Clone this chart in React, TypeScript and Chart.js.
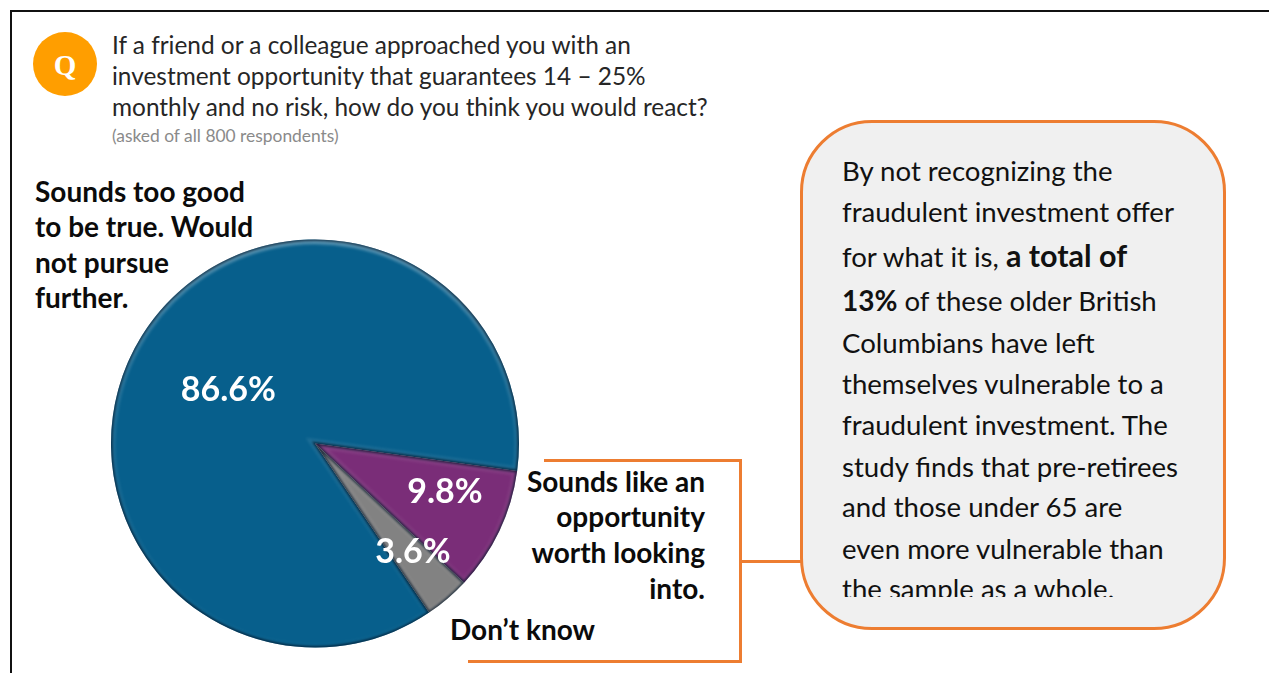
import React, { useEffect, useRef } from "react";
import { Chart, registerables } from "chart.js";

Chart.register(...registerables);

const categories = [
  "Sounds too good to be true. Would not pursue further.",
  "Sounds like an opportunity worth looking into.",
  "Don’t know",
];
const shares = [86.6, 9.8, 3.6];
const sliceColors = ["#075F8C", "#7A2D78", "#828282"];
const questionLines = [
  "If a friend or a colleague approached you with an",
  "investment opportunity that guarantees 14 – 25%",
  "monthly and no risk, how do you think you would react?",
];
const questionNote = "(asked of all 800 respondents)";
const rejectLabelLines = ["Sounds too good", "to be true. Would", "not pursue", "further."];
const pursueLabelLines = ["Sounds like an", "opportunity", "worth looking", "into."];
const unsureLabel = "Don’t know";

const FONT = "Lato, 'Noto Sans', sans-serif";
const ORANGE = "#ED7D31";

// Radial position of each percentage label, as a fraction of the radius, and its angular nudge.
const labelRadius = [0.5, 0.68, 0.715];
const labelNudge = [0, -0.085, -0.03];

// Soft bevel along every slice edge, then the percentage label.
const bevelPlugin = {
  id: "bevel",
  afterDatasetsDraw(chart: any) {
    const { ctx } = chart;
    const arcs = chart.getDatasetMeta(0).data;
    arcs.forEach((arc: any) => {
      const { x, y, outerRadius, startAngle, endAngle } = arc.getProps(
        ["x", "y", "outerRadius", "startAngle", "endAngle"],
        true
      );
      const wedge = () => {
        ctx.beginPath();
        ctx.moveTo(x, y);
        ctx.arc(x, y, outerRadius, startAngle, endAngle);
        ctx.closePath();
      };
      ctx.save();
      wedge();
      ctx.clip();
      // lit inner rim, strongest towards the top of the pie
      const glow = ctx.createLinearGradient(x, y - outerRadius, x, y + outerRadius);
      glow.addColorStop(0, "rgba(255,255,255,0.34)");
      glow.addColorStop(0.45, "rgba(255,255,255,0.1)");
      glow.addColorStop(1, "rgba(255,255,255,0.02)");
      ctx.filter = "blur(1.5px)";
      wedge();
      ctx.strokeStyle = glow;
      ctx.lineWidth = 9;
      ctx.stroke();
      // dark outline hugging the edge
      ctx.filter = "blur(1px)";
      wedge();
      ctx.strokeStyle = "rgba(0,20,40,0.7)";
      ctx.lineWidth = 3;
      ctx.stroke();
      ctx.restore();
    });
    arcs.forEach((arc: any, i: number) => {
      const { x, y, outerRadius, startAngle, endAngle } = arc.getProps(
        ["x", "y", "outerRadius", "startAngle", "endAngle"],
        true
      );
      const mid = (startAngle + endAngle) / 2 + labelNudge[i];
      ctx.save();
      ctx.font = `bold 34px ${FONT}`;
      ctx.fillStyle = "#FFFFFF";
      ctx.textAlign = "center";
      ctx.textBaseline = "middle";
      ctx.fillText(
        `${shares[i].toFixed(1)}%`,
        x + Math.cos(mid) * outerRadius * labelRadius[i],
        y + Math.sin(mid) * outerRadius * labelRadius[i]
      );
      ctx.restore();
    });
  },
};

const Line = ({ x, y, right, size, weight, color, children }: any) => (
  <div
    style={{
      position: "absolute",
      left: right === undefined ? x : undefined,
      right: right === undefined ? undefined : 1269 - right,
      top: y - 20,
      height: 40,
      lineHeight: "40px",
      fontSize: size,
      fontWeight: weight ?? 400,
      color: color ?? "#111",
      whiteSpace: "nowrap",
    }}
  >
    {children}
  </div>
);

const calloutLines: React.ReactNode[] = [
  "By not recognizing the",
  "fraudulent investment offer",
  <>for what it is, <b style={{ fontSize: 30.5 }}>a total of</b></>,
  <><b style={{ fontSize: 28 }}>13%</b> of these older British</>,
  "Columbians have left",
  "themselves vulnerable to a",
  "fraudulent investment. The",
  "study finds that pre-retirees",
  "and those under 65 are",
  "even more vulnerable than",
  "the sample as a whole.",
];
const calloutRows = [171, 212, 255, 300, 343, 384, 425, 467, 507, 549, 589];
const questionRows = [45, 76, 107];
const rejectRows = [191, 226, 262, 297];
const pursueRows = [481, 516, 552, 588];

export default function App() {
  const ref = useRef<HTMLCanvasElement>(null);

  useEffect(() => {
    const chart = new Chart(ref.current as HTMLCanvasElement, {
      type: "pie",
      data: {
        labels: categories,
        datasets: [{ data: shares, backgroundColor: sliceColors, borderWidth: 0 }],
      },
      options: {
        responsive: false,
        animation: false,
        rotation: 146,
        layout: { padding: 6 },
        plugins: { legend: { display: false }, tooltip: { enabled: false } },
      },
      plugins: [bevelPlugin],
    });
    return () => chart.destroy();
  }, []);

  return (
    <div
      style={{
        position: "absolute",
        left: 0,
        top: 0,
        width: 1269,
        height: 673,
        overflow: "hidden",
        background: "#fff",
        fontFamily: FONT,
      }}
    >
      {/* page frame */}
      <div style={{ position: "absolute", left: 10, top: 10, width: 1259, height: 2, background: "#111" }} />
      <div style={{ position: "absolute", left: 10, top: 10, width: 2, height: 663, background: "#111" }} />

      {/* question badge */}
      <div
        style={{
          position: "absolute",
          left: 33,
          top: 32,
          width: 64,
          height: 64,
          borderRadius: "50%",
          background: "#FF9E00",
          color: "#fff",
          textAlign: "center",
          lineHeight: "66px",
          fontSize: 29,
          fontWeight: 700,
          fontFamily: "'Liberation Serif', serif",
        }}
      >
        Q
      </div>

      {questionLines.map((t, i) => (
        <Line key={t} x={112} y={questionRows[i]} size={24.4} color="#262626">{t}</Line>
      ))}
      <Line x={112} y={136} size={17.4} color="#8A8A8A">{questionNote}</Line>

      {rejectLabelLines.map((t, i) => (
        <Line key={t} x={35} y={rejectRows[i]} size={28} weight={700} color="#0B0B0B">{t}</Line>
      ))}
      {pursueLabelLines.map((t, i) => (
        <Line key={t} right={705} y={pursueRows[i]} size={28} weight={700} color="#0B0B0B">{t}</Line>
      ))}
      <Line x={450} y={629} size={28} weight={700} color="#0B0B0B">{unsureLabel}</Line>

      {/* bracket joining the slice labels to the callout */}
      <div style={{ position: "absolute", left: 544, top: 459, width: 197, height: 3, background: ORANGE }} />
      <div style={{ position: "absolute", left: 739, top: 459, width: 3, height: 204, background: ORANGE }} />
      <div style={{ position: "absolute", left: 468, top: 660, width: 274, height: 3, background: ORANGE }} />
      <div style={{ position: "absolute", left: 740, top: 560, width: 62, height: 3, background: ORANGE }} />

      {/* callout */}
      <div
        style={{
          position: "absolute",
          left: 800,
          top: 120,
          width: 426,
          height: 510,
          boxSizing: "border-box",
          border: `3px solid ${ORANGE}`,
          borderRadius: 72,
          background: "#F0F0F0",
        }}
      />
      <div style={{ position: "absolute", left: 830, top: 140, width: 380, height: 457, overflow: "hidden" }}>
        <div style={{ position: "absolute", left: -830, top: -140, width: 1269, height: 673 }}>
          {calloutLines.map((t, i) => (
            <Line key={i} x={842} y={calloutRows[i]} size={27.6} color="#111">{t}</Line>
          ))}
        </div>
      </div>

      <canvas
        ref={ref}
        width={420}
        height={421}
        style={{ position: "absolute", left: 105, top: 233, width: 420, height: 421 }}
      />
    </div>
  );
}
